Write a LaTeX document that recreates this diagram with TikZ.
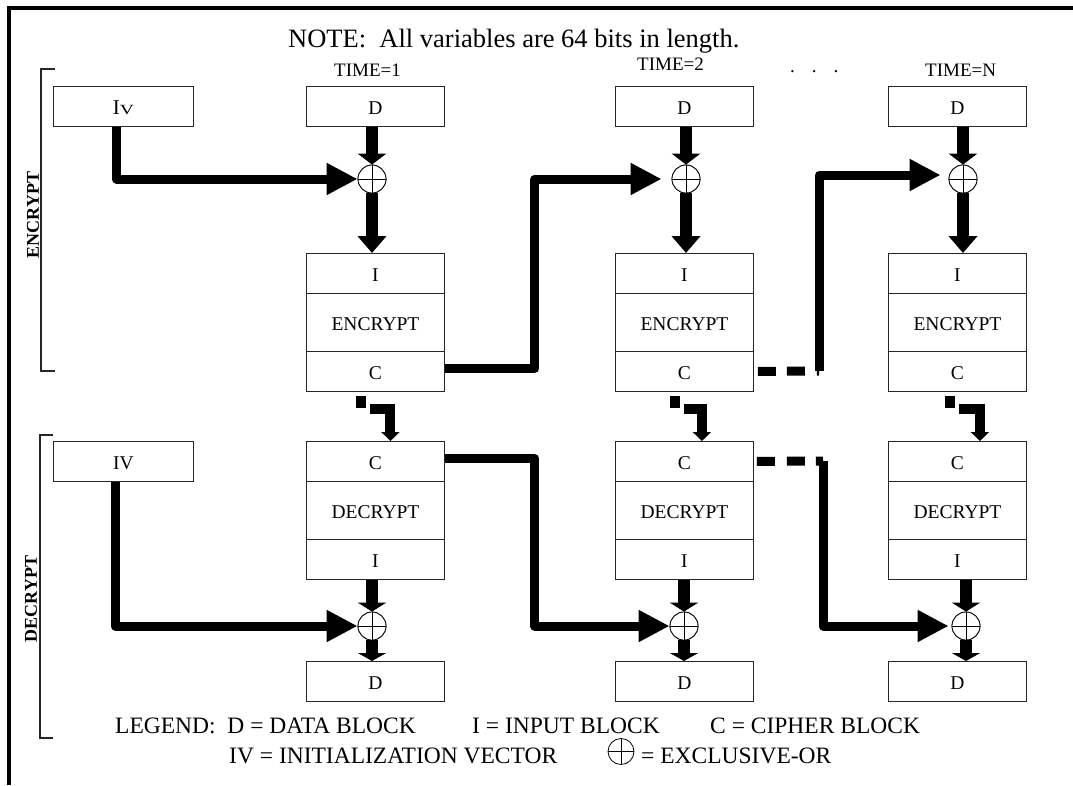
\documentclass[tikz,border=0pt]{standalone}
\usepackage{fontspec}
\setmainfont{Liberation Serif}
\usetikzlibrary{arrows.meta}
\begin{document}
\begin{tikzpicture}[x=1pt,y=-1pt,
  part/.style={draw=black!85, line width=0.9pt, minimum width=138pt, inner sep=0pt, anchor=north west, text height=16pt, text depth=0pt, font=\fontsize{19.5}{20}\selectfont},
  short/.style={part, minimum height=40pt},
  tall/.style={part, minimum height=58pt},
  xor/.style={circle, draw=black, fill=white, line width=0.8pt, minimum size=28pt, inner sep=0pt,
    path picture={\draw[line width=0.9pt] (path picture bounding box.north) -- (path picture bounding box.south)
      (path picture bounding box.west) -- (path picture bounding box.east);}},
  feed/.style={line width=9pt, line join=round, -{Triangle[length=31pt,width=30pt]}},
  shaft/.style={line width=12pt},
  drop/.style={line width=10pt, dash pattern=on 0pt off 4pt on 12pt off 10pt on 400pt, -{Triangle[length=9pt,width=18pt]}},
  dashA/.style={line width=9pt, dash pattern=on 0pt off 4pt on 18pt off 11pt on 18pt off 12pt on 8pt off 100pt},
  dashB/.style={line width=9pt, dash pattern=on 0pt off 3pt on 18pt off 12pt on 18pt off 11pt on 9pt off 100pt},
  bracket/.style={draw=black!85, line width=1.1pt},
  txt/.style={anchor=base west, inner sep=0pt},
  timefont/.style={font=\fontsize{19}{19}\selectfont},
  legfont/.style={font=\fontsize{23.5}{24}\selectfont},
  side/.style={rotate=90, inner sep=0pt, font=\bfseries\fontsize{18}{18}\selectfont}
]
\useasboundingbox (0,0) rectangle (1073,785);
% frame
\draw[line width=4pt] (9.2,785) -- (9.2,8) -- (1073,8);

% title and time labels
\node[txt, font=\fontsize{26.5}{27}\selectfont] (note) at (288,47) {NOTE:\ \ All variables are 64 bits in length.};
\node[txt, timefont] (t1) at (334,76) {TIME=1};
\node[txt, timefont] (t2) at (637,70) {TIME=2};
\node[txt, timefont] (tdots) at (790,72) {.\hskip17pt.\hskip17pt.};
\node[txt, timefont] (tn) at (925,76) {TIME=N};

% side brackets and labels
\draw[bracket] (55,69) -- (41,69) -- (41,371) -- (55,371);
\draw[bracket] (53,435) -- (40,435) -- (40,738) -- (53,738);
\node[side] (enclab) at (33,215) {ENCRYPT};
\node[side] (declab) at (31,599) {DECRYPT};

% IV boxes
\node[short, minimum width=140pt, font=\fontsize{21}{21}\selectfont] (IV1) at (53,86) {I\scalebox{1.4}[1]{\fontsize{14}{14}\selectfont V}};
\node[short, minimum width=140pt] (IV2) at (53,441) {IV};

% columns
\foreach \c/\L/\xe/\xd in {1/306/372/372, 2/615/686/684, 3/888/963/966} {
  \node[short] (Dt\c) at (\L,86) {D};
  \node[short] (Ei\c) at (\L,253) {I};
  \node[tall]  (Em\c) at (\L,293) {ENCRYPT};
  \node[short] (Ec\c) at (\L,351) {C};
  \node[short] (Dc\c) at (\L,441) {C};
  \node[tall]  (Dm\c) at (\L,481) {DECRYPT};
  \node[short] (Di\c) at (\L,539) {I};
  \node[short] (Db\c) at (\L,661) {D};
  \node[xor] (X\c) at (\xe,179) {};
  \node[xor] (Y\c) at (\xd,626) {};
  \draw[shaft, -{Triangle[length=11pt,width=28pt]}] (X\c.north |- Dt\c.south) -- (X\c.north);
  \draw[shaft, -{Triangle[length=17pt,width=28pt]}] (X\c.south) -- (X\c.south |- Ei\c.north);
  \draw[shaft, -{Triangle[length=9pt,width=28pt]}] (Y\c.north |- Di\c.south) -- (Y\c.north);
  \draw[shaft, -{Triangle[length=8pt,width=28pt]}] (Y\c.south) -- (Y\c.south |- Db\c.north);
}

% encrypt -> decrypt drops
\draw[drop] ([xshift=-14pt]Ec1.south) -- ++(0,17) -| ([xshift=15pt]Dc1.north);
\draw[drop] ([xshift=-9.5pt]Ec2.south) -- ++(0,17) -| ([xshift=17.5pt]Dc2.north);
\draw[drop] ([xshift=-7.5pt]Ec3.south) -- ++(0,17) -| ([xshift=22.5pt]Dc3.north);

% encrypt chain
\draw[feed] ([xshift=-7pt]IV1.south) |- (X1.west);
\draw[feed, shorten >=10pt] ([yshift=3pt]Ec1.east) -- ++(90,0) |- (X2.west);
\coordinate (j1) at (819,371);
\draw[dashA] (Ec2.east) -- (j1);
\draw[feed, shorten >=8pt] (j1) |- ([yshift=4pt]X3.west);

% decrypt chain
\draw[feed] ([xshift=-8pt]IV2.south) |- (Y1.west);
\draw[feed] ([yshift=3pt]Dc1.east) -- ++(90,0) |- (Y2.west);
\coordinate (j2) at (823,461);
\draw[dashB] (Dc2.east) -- (j2);
\draw[feed, shorten >=3pt] (j2) |- (Y3.west);

% redraw xor circles on top
\foreach \c in {1,2,3} {
  \node[xor] at (X\c) {};
  \node[xor] at (Y\c) {};
}

% legend
\node[txt, legfont] (leg1) at (115,733) {LEGEND:\ \ D = DATA BLOCK};
\node[txt, legfont] (leg2) at (472,733) {I = INPUT BLOCK};
\node[txt, legfont] (leg3) at (710,733) {C = CIPHER BLOCK};
\node[txt, legfont] (leg4) at (229,763) {IV = INITIALIZATION VECTOR};
\node[xor, minimum size=26pt, fill=none] (legx) at (621,751.5) {};
\node[txt, legfont] (leg5) at (641,763) {= EXCLUSIVE-OR};
\end{tikzpicture}
\end{document}
